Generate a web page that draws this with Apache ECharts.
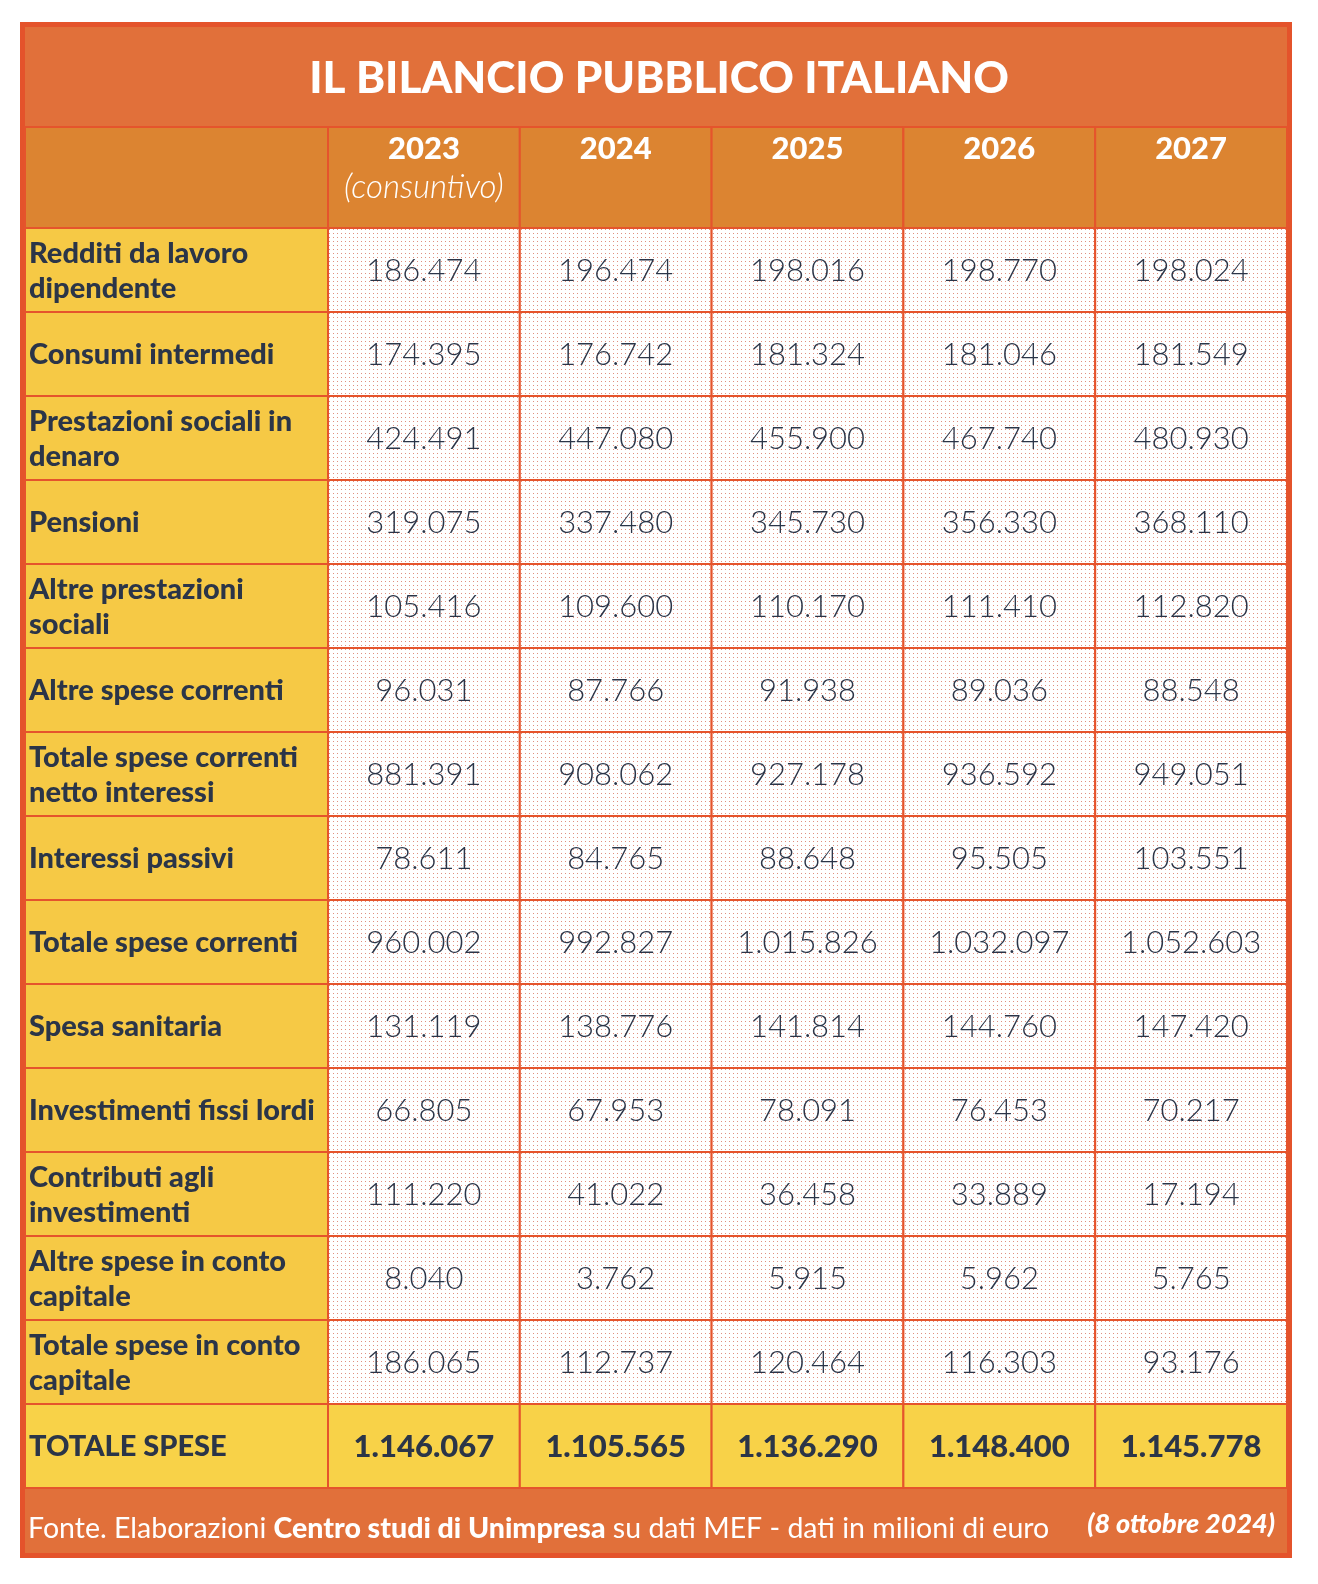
<!DOCTYPE html>
<html>
<head>
<meta charset="utf-8">
<script src="https://cdn.jsdelivr.net/npm/echarts@6/dist/echarts.min.js"></script>
<style>
html,body{margin:0;padding:0;background:#fff;}
#chart{width:1318px;height:1584px;}
</style>
</head>
<body>
<div id="chart"></div>
<script>
// ---- data ----
const titleText = 'IL BILANCIO PUBBLICO ITALIANO';
const years = ['2023', '2024', '2025', '2026', '2027'];
const yearNotes = ['(consuntivo)', '', '', '', ''];
const rowLabels = [
  'Redditi da lavoro\ndipendente',
  'Consumi intermedi',
  'Prestazioni sociali in\ndenaro',
  'Pensioni',
  'Altre prestazioni\nsociali',
  'Altre spese correnti',
  'Totale spese correnti\nnetto interessi',
  'Interessi passivi',
  'Totale spese correnti',
  'Spesa sanitaria',
  'Investimenti fissi lordi',
  'Contributi agli\ninvestimenti',
  'Altre spese in conto\ncapitale',
  'Totale spese in conto\ncapitale',
  'TOTALE SPESE'
];
const v2023 = [186474, 174395, 424491, 319075, 105416, 96031, 881391, 78611, 960002, 131119, 66805, 111220, 8040, 186065, 1146067];
const v2024 = [196474, 176742, 447080, 337480, 109600, 87766, 908062, 84765, 992827, 138776, 67953, 41022, 3762, 112737, 1105565];
const v2025 = [198016, 181324, 455900, 345730, 110170, 91938, 927178, 88648, 1015826, 141814, 78091, 36458, 5915, 120464, 1136290];
const v2026 = [198770, 181046, 467740, 356330, 111410, 89036, 936592, 95505, 1032097, 144760, 76453, 33889, 5962, 116303, 1148400];
const v2027 = [198024, 181549, 480930, 368110, 112820, 88548, 949051, 103551, 1052603, 147420, 70217, 17194, 5765, 93176, 1145778];
const footerParts = ['Fonte. Elaborazioni ', 'Centro studi di Unimpresa', ' su dati MEF - dati in milioni di euro'];
const footerDate = '(8 ottobre 2024)';

// ---- styling ----
const C = {
  frame: '#E4532B', band: '#E1703A', header: '#DC8431', label: '#F6C945',
  total: '#F8D248', grid: '#E5542C', text: '#2B3548', white: '#FFFFFF', dot: '#E0907F'
};
const FONT = 'Lato, "Open Sans", sans-serif';

function fmt(n) { return String(n).replace(/\B(?=(\d{3})+(?!\d))/g, '.'); }

const dotCanvas = document.createElement('canvas');
dotCanvas.width = 4; dotCanvas.height = 4;
(function () {
  const ctx = dotCanvas.getContext('2d');
  ctx.fillStyle = '#FFFFFF'; ctx.fillRect(0, 0, 4, 4);
  ctx.fillStyle = C.dot; ctx.fillRect(1, 1, 1, 1);
})();
const dotFill = { image: dotCanvas, repeat: 'repeat' };

const lastRow = rowLabels.length - 1;
const valueCols = [v2023, v2024, v2025, v2026, v2027];
const bodyData = [];
valueCols.forEach((col, ci) => col.forEach((v, ri) => bodyData.push([ci, ri, v])));
const labelData = rowLabels.map((l, ri) => [0, ri]);
const headData = years.map((y, ci) => [ci, 0]);

function cellRect(api, x, y) {
  const c = api.coord([x, y]);
  const s = api.size([1, 1]);
  return { x: c[0] - s[0] / 2, y: c[1] - s[1] / 2, width: s[0], height: s[1], cx: c[0], cy: c[1] };
}

const chart = echarts.init(document.getElementById('chart'), null, { renderer: 'canvas' });

const L = 25, LW = 303, RW = 959, HT = 127, HH = 101, BT = 228, BH = 1260;

chart.setOption({
  animation: false,
  title: [
    { text: titleText, left: 'center', top: 52,
      textStyle: { color: C.white, fontFamily: FONT, fontWeight: 900, fontSize: 44 } },
    { text: '{a|' + footerParts[0] + '}{b|' + footerParts[1] + '}{a|' + footerParts[2] + '}',
      left: 23, top: 1509,
      textStyle: { fontWeight: 'normal', rich: {
        a: { color: C.white, fontFamily: FONT, fontSize: 28.5, fontWeight: 'normal' },
        b: { color: C.white, fontFamily: FONT, fontSize: 28.5, fontWeight: 900 } } } },
    { text: footerDate, right: 38, top: 1506,
      textStyle: { color: C.white, fontFamily: FONT, fontSize: 27, fontWeight: 900, fontStyle: 'italic' } }
  ],
  graphic: [
    { type: 'rect', z: -10, shape: { x: 20, y: 22, width: 1272, height: 1536 }, style: { fill: C.frame } },
    { type: 'rect', z: -9, shape: { x: L, y: 27, width: LW + RW, height: 100 }, style: { fill: C.band } },
    { type: 'rect', z: -9, shape: { x: L, y: 1489, width: LW + RW, height: 64 }, style: { fill: C.band } }
  ],
  grid: [
    { left: L, width: LW, top: HT, height: HH },
    { left: L + LW, width: RW, top: HT, height: HH },
    { left: L, width: LW, top: BT, height: BH },
    { left: L + LW, width: RW, top: BT, height: BH }
  ],
  xAxis: [
    { gridIndex: 0, type: 'category', data: [''], show: false },
    { gridIndex: 1, type: 'category', data: years, show: false },
    { gridIndex: 2, type: 'category', data: [''], show: false },
    { gridIndex: 3, type: 'category', data: years, show: false }
  ],
  yAxis: [
    { gridIndex: 0, type: 'category', data: [''], show: false },
    { gridIndex: 1, type: 'category', data: [''], show: false },
    { gridIndex: 2, type: 'category', data: rowLabels, inverse: true, show: false },
    { gridIndex: 3, type: 'category', data: rowLabels, inverse: true, show: false }
  ],
  series: [
    { type: 'custom', xAxisIndex: 0, yAxisIndex: 0, data: [[0, 0]],
      renderItem: function (params, api) {
        const r = cellRect(api, api.value(0), api.value(1));
        return { type: 'rect', shape: { x: r.x, y: r.y, width: r.width, height: r.height },
          style: { fill: C.header, stroke: C.grid, lineWidth: 2 } };
      } },
    { type: 'custom', xAxisIndex: 1, yAxisIndex: 1, data: headData,
      renderItem: function (params, api) {
        const ci = api.value(0);
        const r = cellRect(api, ci, api.value(1));
        return { type: 'group', children: [
          { type: 'rect', shape: { x: r.x, y: r.y, width: r.width, height: r.height },
            style: { fill: C.header, stroke: C.grid, lineWidth: 2 } },
          { type: 'text', style: { text: years[ci], x: r.cx, y: r.y + 22, align: 'center', verticalAlign: 'middle',
            fill: C.white, font: '900 31px ' + FONT } },
          { type: 'text', style: { text: yearNotes[ci], x: r.cx, y: r.y + 60, align: 'center', verticalAlign: 'middle',
            fill: C.white, font: 'italic 300 33px ' + FONT } }
        ] };
      } },
    { type: 'custom', xAxisIndex: 2, yAxisIndex: 2, data: labelData,
      renderItem: function (params, api) {
        const ri = api.value(1);
        const r = cellRect(api, api.value(0), ri);
        return { type: 'group', children: [
          { type: 'rect', shape: { x: r.x, y: r.y, width: r.width, height: r.height },
            style: { fill: ri === lastRow ? C.total : C.label, stroke: C.grid, lineWidth: 2 } },
          { type: 'text', style: { text: rowLabels[ri], x: r.x + 4, y: r.cy + 1, align: 'left', verticalAlign: 'middle',
            fill: C.text, font: '900 29px ' + FONT, lineHeight: 35 } }
        ] };
      } },
    { type: 'custom', xAxisIndex: 3, yAxisIndex: 3, data: bodyData,
      renderItem: function (params, api) {
        const ri = api.value(1);
        const r = cellRect(api, api.value(0), ri);
        const isTot = ri === lastRow;
        return { type: 'group', children: [
          { type: 'rect', shape: { x: r.x, y: r.y, width: r.width, height: r.height },
            style: { fill: isTot ? C.total : dotFill, stroke: C.grid, lineWidth: 2 } },
          { type: 'text', style: { text: fmt(api.value(2)), x: r.cx, y: r.cy + 1, align: 'center', verticalAlign: 'middle',
            fill: C.text, font: (isTot ? '900 31px ' : '300 31px ') + FONT } }
        ] };
      } }
  ]
});
</script>
</body>
</html>
